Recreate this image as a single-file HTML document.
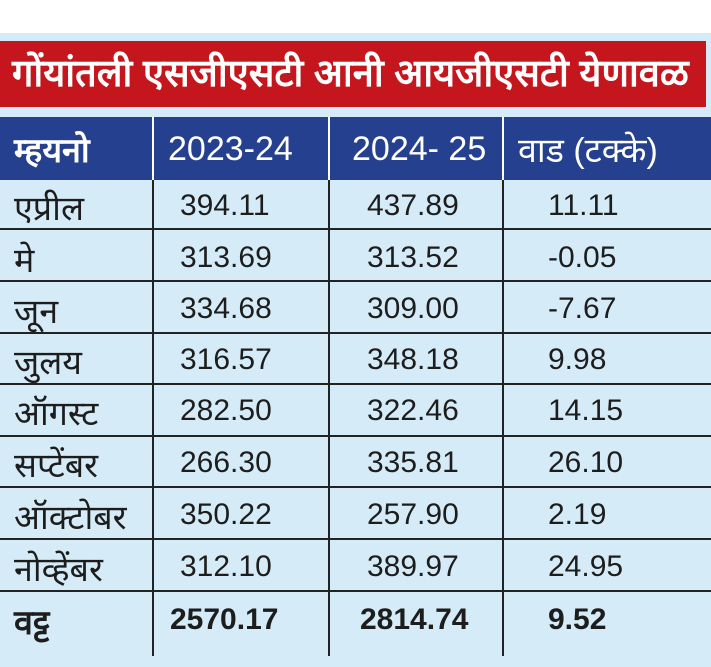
<!DOCTYPE html>
<html><head><meta charset="utf-8"><style>
*{margin:0;padding:0;box-sizing:border-box}
body{width:711px;height:667px;background:#fff;position:relative;overflow:hidden;font-family:"Liberation Sans",sans-serif}
.bg{position:absolute;left:0;top:33px;width:711px;height:634px;background:#d5ecf8}
.title{position:absolute;left:0;top:41px;width:706px;height:66px;background:#c4161c;color:#fff;font-size:38px;font-weight:bold;line-height:66px;padding-left:12px;white-space:nowrap}
.head{position:absolute;left:0;top:117px;width:711px;height:63px;background:#25408f}
.t{position:absolute;white-space:nowrap;font-size:30px;color:#1d1d1d}
.d{font-size:34px;margin-top:-5px}
.h{color:#fff;font-size:34px}
.vl{position:absolute;width:2px;background:#222;top:117px;height:539px}
.vl.w{background:#fff;height:63px}
.hl{position:absolute;left:0;width:711px;height:2px;background:#222}
</style></head><body>
<div class="bg"></div>
<div class="title">गोंयांतली एसजीएसटी आनी आयजीएसटी येणावळ</div>
<div class="head"></div>
<div class="vl" style="left:152px;top:180px;height:476px"></div>
<div class="vl" style="left:328px;top:180px;height:476px"></div>
<div class="vl" style="left:502px;top:180px;height:476px"></div>
<div class="vl w" style="left:152px"></div>
<div class="vl w" style="left:328px"></div>
<div class="vl w" style="left:502px"></div>
<div class="hl" style="top:228px"></div>
<div class="hl" style="top:280px"></div>
<div class="hl" style="top:332px"></div>
<div class="hl" style="top:383px"></div>
<div class="hl" style="top:435px"></div>
<div class="hl" style="top:486px"></div>
<div class="hl" style="top:538px"></div>
<div class="hl" style="top:590px"></div>
<div class="t h" style="left:14px;top:126px;font-weight:bold">म्हयनो</div>
<div class="t h" style="left:168px;top:130px">2023-24</div>
<div class="t h" style="left:352px;top:130px">2024- 25</div>
<div class="t h" style="left:518px;top:126px">वाड (टक्के)</div>

<div class="t d" style="left:14px;top:189px">एप्रील</div><div class="t" style="left:180px;top:189px">394.11</div><div class="t" style="left:367px;top:189px">437.89</div><div class="t" style="left:548px;top:189px">11.11</div>
<div class="t d" style="left:14px;top:241px">मे</div><div class="t" style="left:180px;top:241px">313.69</div><div class="t" style="left:367px;top:241px">313.52</div><div class="t" style="left:548px;top:241px">-0.05</div>
<div class="t d" style="left:14px;top:292px">जून</div><div class="t" style="left:180px;top:292px">334.68</div><div class="t" style="left:367px;top:292px">309.00</div><div class="t" style="left:548px;top:292px">-7.67</div>
<div class="t d" style="left:14px;top:343px">जुलय</div><div class="t" style="left:180px;top:343px">316.57</div><div class="t" style="left:367px;top:343px">348.18</div><div class="t" style="left:548px;top:343px">9.98</div>
<div class="t d" style="left:14px;top:394px">ऑगस्ट</div><div class="t" style="left:180px;top:394px">282.50</div><div class="t" style="left:367px;top:394px">322.46</div><div class="t" style="left:548px;top:394px">14.15</div>
<div class="t d" style="left:14px;top:446px">सप्टेंबर</div><div class="t" style="left:180px;top:446px">266.30</div><div class="t" style="left:367px;top:446px">335.81</div><div class="t" style="left:548px;top:446px">26.10</div>
<div class="t d" style="left:14px;top:498px">ऑक्टोबर</div><div class="t" style="left:180px;top:498px">350.22</div><div class="t" style="left:367px;top:498px">257.90</div><div class="t" style="left:548px;top:498px">2.19</div>
<div class="t d" style="left:14px;top:550px">नोव्हेंबर</div><div class="t" style="left:180px;top:550px">312.10</div><div class="t" style="left:367px;top:550px">389.97</div><div class="t" style="left:548px;top:550px">24.95</div>
<div class="t d" style="left:14px;top:603px;font-weight:bold">वट्ट</div><div class="t" style="left:170px;top:603px;font-weight:bold">2570.17</div><div class="t" style="left:360px;top:603px;font-weight:bold">2814.74</div><div class="t" style="left:548px;top:603px;font-weight:bold">9.52</div>
</body></html>
